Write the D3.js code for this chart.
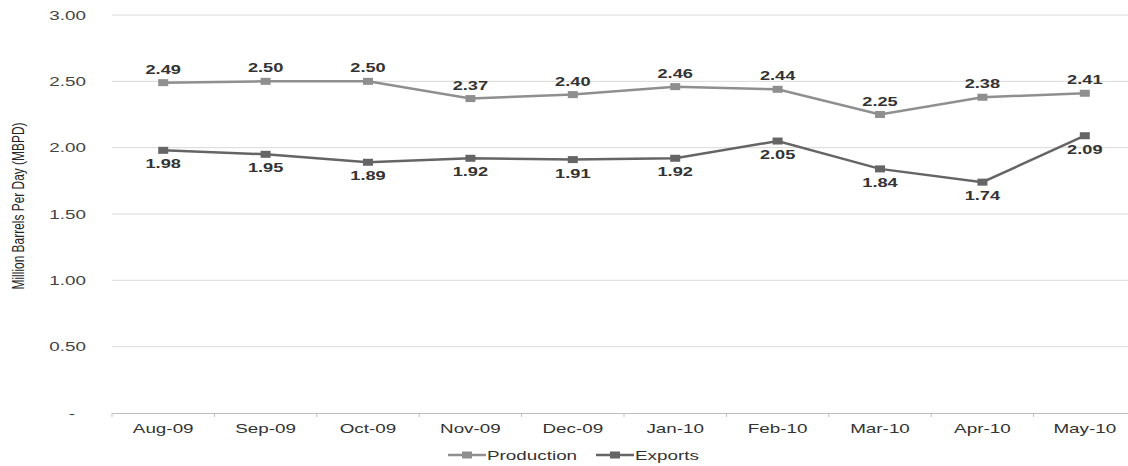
<!DOCTYPE html>
<html>
<head>
<meta charset="utf-8">
<script src="https://cdn.jsdelivr.net/npm/d3@7"></script>
<style>
  html, body { margin: 0; padding: 0; background: #fff; }
  svg { display: block; }
</style>
</head>
<body>
<svg id="chart" width="1128" height="466"></svg>
<script>
// Monthly production and exports, million barrels per day
const months = ["Aug-09", "Sep-09", "Oct-09", "Nov-09", "Dec-09", "Jan-10", "Feb-10", "Mar-10", "Apr-10", "May-10"];
const production = [2.49, 2.50, 2.50, 2.37, 2.40, 2.46, 2.44, 2.25, 2.38, 2.41];
const exportsData = [1.98, 1.95, 1.89, 1.92, 1.91, 1.92, 2.05, 1.84, 1.74, 2.09];
const yTicks = [0, 0.5, 1.0, 1.5, 2.0, 2.5, 3.0];
const yTickLabels = ["-", "0.50", "1.00", "1.50", "2.00", "2.50", "3.00"];
const seriesNames = ["Production", "Exports"];

const svg = d3.select("#chart");
const plotLeft = 112, plotRight = 1136, plotTop = 15, plotBottom = 413;
const font = "'Liberation Sans', Arial, Helvetica, sans-serif";
const stretch = "scale(1.45,1)"; // wide lettering used throughout

const x = d3.scaleBand().domain(months).range([plotLeft, plotRight]);
const y = d3.scaleLinear().domain([0, 3]).range([plotBottom, plotTop]);

// Horizontal gridlines
svg.append("g").selectAll("line")
  .data(yTicks.filter(d => d > 0))
  .join("line")
  .attr("x1", plotLeft).attr("x2", 1128)
  .attr("y1", d => y(d)).attr("y2", d => y(d))
  .attr("stroke", "#d9d9d9").attr("stroke-width", 1);

// Y tick labels (accounting style: zero shown as an indented dash)
svg.append("g").selectAll("text")
  .data(yTicks)
  .join("text")
  .attr("transform", d => `translate(${d === 0 ? 75 : 86},${y(d)}) ${stretch}`)
  .attr("dy", "0.35em")
  .attr("text-anchor", "end")
  .attr("font-family", font)
  .attr("font-size", 13)
  .attr("fill", "#444")
  .text((d, i) => yTickLabels[i]);

// Y axis title
svg.append("text")
  .attr("transform", "translate(19,206) rotate(-90) scale(1,1.3)")
  .attr("text-anchor", "middle")
  .attr("dy", "0.35em")
  .attr("font-family", "'Liberation Sans Narrow', 'Liberation Sans', Arial, sans-serif")
  .attr("font-size", 12)
  .attr("fill", "#222")
  .attr("textLength", 167)
  .attr("lengthAdjust", "spacingAndGlyphs")
  .text("Million Barrels Per Day (MBPD)");

// X axis
const xAxis = d3.axisBottom(x).tickSize(0).tickPadding(11);
const gx = svg.append("g").attr("transform", `translate(0,${plotBottom})`).call(xAxis);
gx.select(".domain").attr("stroke", "#bfbfbf");
gx.selectAll(".tick text")
  .attr("transform", stretch)
  .attr("font-family", font).attr("font-size", 13).attr("fill", "#333");
// Category boundary ticks
const boundaries = months.map(m => x(m)).concat([plotRight]);
gx.append("g").selectAll("line")
  .data(boundaries)
  .join("line")
  .attr("x1", d => d).attr("x2", d => d)
  .attr("y1", 0).attr("y2", 4)
  .attr("stroke", "#bfbfbf");

const cx = m => x(m) + x.bandwidth() / 2;
const series = [
  { name: seriesNames[0], values: production, color: "#8f8f8f", labelDy: -9 },
  { name: seriesNames[1], values: exportsData, color: "#656565", labelDy: 18 }
];

const line = d3.line().x((d, i) => cx(months[i])).y(d => y(d));

series.forEach(s => {
  const g = svg.append("g");
  g.append("path")
    .datum(s.values)
    .attr("d", line)
    .attr("fill", "none")
    .attr("stroke", s.color)
    .attr("stroke-width", 2.5);
  g.selectAll("rect")
    .data(s.values)
    .join("rect")
    .attr("x", (d, i) => cx(months[i]) - 5)
    .attr("y", d => y(d) - 3.5)
    .attr("width", 10).attr("height", 7)
    .attr("fill", s.color);
  g.selectAll("text")
    .data(s.values)
    .join("text")
    .attr("transform", (d, i) => `translate(${cx(months[i])},${y(d) + s.labelDy}) scale(1.4,1)`)
    .attr("text-anchor", "middle")
    .attr("font-family", font)
    .attr("font-size", 13)
    .attr("font-weight", "bold")
    .attr("fill", "#333")
    .text(d => d.toFixed(2));
});

// Legend
const legend = svg.append("g").attr("transform", "translate(0,455)");
const legendItems = [
  { name: seriesNames[0], color: series[0].color, x0: 448 },
  { name: seriesNames[1], color: series[1].color, x0: 596 }
];
legendItems.forEach(it => {
  legend.append("line")
    .attr("x1", it.x0).attr("x2", it.x0 + 38)
    .attr("y1", 0).attr("y2", 0)
    .attr("stroke", it.color).attr("stroke-width", 2.5);
  legend.append("rect")
    .attr("x", it.x0 + 14).attr("y", -3.5)
    .attr("width", 10).attr("height", 7)
    .attr("fill", it.color);
  legend.append("text")
    .attr("transform", `translate(${it.x0 + 39},0) ${stretch}`)
    .attr("dy", "0.35em")
    .attr("font-family", font).attr("font-size", 13).attr("fill", "#333")
    .text(it.name);
});
</script>
</body>
</html>
